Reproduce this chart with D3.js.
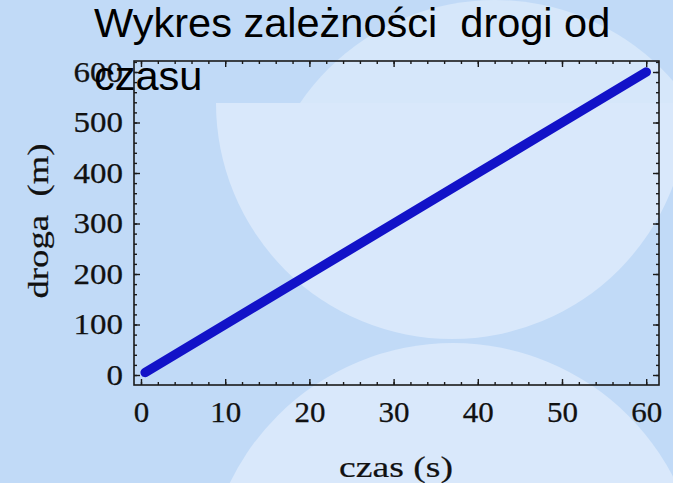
<!DOCTYPE html>
<html>
<head>
<meta charset="utf-8">
<script src="https://cdn.jsdelivr.net/npm/d3@7"></script>
<style>
body { margin: 0; background: #c1daf7; }
.tick text { font-family: "Liberation Serif", "Times New Roman", serif; font-size: 29px; fill: #111; stroke: #111; stroke-width: 0.25; }
.tick line { stroke: #1a1a1a; stroke-width: 1.4; }
</style>
</head>
<body>
<svg id="chart" width="673" height="483"></svg>
<script>
// values
const czas = [0.5, 10, 20, 30, 40, 50, 60];
const droga = [5, 100, 200, 300, 400, 500, 600];
const xTicks = [0, 10, 20, 30, 40, 50, 60];
const yTicks = [0, 100, 200, 300, 400, 500, 600];
const titleLines = ["Wykres zależności  drogi od", "czasu"];
const xLabel = "czas (s)";
const yLabel = "droga  (m)";

function drawBackground(svg) {
    let defs = svg.append("defs");
    defs.append("clipPath").attr("id", "topBand").append("rect").attr("x", 0).attr("y", 0).attr("width", 673).attr("height", 103);
    defs.append("clipPath").attr("id", "lowBand").append("rect").attr("x", 0).attr("y", 103).attr("width", 673).attr("height", 380);

    svg.append("rect").attr("width", 673).attr("height", 483).style("fill", "#c1daf7");
    svg.append("circle").attr("cx", 495).attr("cy", 236).attr("r", 236).attr("clip-path", "url(#topBand)").style("fill", "#d6e7fa");
    svg.append("circle").attr("cx", 452).attr("cy", 103).attr("r", 236).attr("clip-path", "url(#lowBand)").style("fill", "#d9e8fb");
    svg.append("circle").attr("cx", 453).attr("cy", 591).attr("r", 248).style("fill", "#d9e8fb");
}

function drawChart() {
    let svg = d3.select("#chart");
    drawBackground(svg);

    let x = d3.scaleLinear().domain([-0.83, 61.52]).range([134, 659]),
        y = d3.scaleLinear().domain([-19.8, 621.8]).range([385, 61]);
    let x0 = x.range()[0], x1 = x.range()[1], y0 = y.range()[0], y1 = y.range()[1];

    let xMinor = d3.range(0, 61, 2), yMinor = d3.range(0, 621, 20);

    // minor ticks on all four sides
    svg.append("g").attr("transform", "translate(0," + y0 + ")").call(d3.axisBottom(x).tickValues(xMinor).tickSize(-3).tickFormat(""));
    svg.append("g").attr("transform", "translate(0," + y1 + ")").call(d3.axisTop(x).tickValues(xMinor).tickSize(-3).tickFormat(""));
    svg.append("g").attr("transform", "translate(" + x0 + ",0)").call(d3.axisLeft(y).tickValues(yMinor).tickSize(-3).tickFormat(""));
    svg.append("g").attr("transform", "translate(" + x1 + ",0)").call(d3.axisRight(y).tickValues(yMinor).tickSize(-3).tickFormat(""));

    // major ticks, labels on bottom and left
    let bottom = svg.append("g").attr("transform", "translate(0," + y0 + ")")
        .call(d3.axisBottom(x).tickValues(xTicks).tickSize(-6).tickPadding(16));
    svg.append("g").attr("transform", "translate(0," + y1 + ")").call(d3.axisTop(x).tickValues(xTicks).tickSize(-6).tickFormat(""));
    let left = svg.append("g").attr("transform", "translate(" + x0 + ",0)")
        .call(d3.axisLeft(y).tickValues(yTicks).tickSize(-6).tickPadding(11));
    svg.append("g").attr("transform", "translate(" + x1 + ",0)").call(d3.axisRight(y).tickValues(yTicks).tickSize(-6).tickFormat(""));

    svg.selectAll(".domain").remove();
    bottom.selectAll("text").attr("textLength", d => String(d).length * 15.5).attr("lengthAdjust", "spacingAndGlyphs");
    left.selectAll("text").attr("textLength", d => String(d).length * 16.5).attr("lengthAdjust", "spacingAndGlyphs");

    // the data line
    let line = d3.line().x((d, i) => x(czas[i])).y(d => y(d));
    svg.append("path").attr("d", line(droga))
        .style("fill", "none").style("stroke", "#1212c8").style("stroke-width", 9.5)
        .style("stroke-linecap", "round").style("stroke-linejoin", "round");

    svg.append("rect").attr("x", x0).attr("y", y1).attr("width", x1 - x0).attr("height", y0 - y1)
        .style("fill", "none").style("stroke", "#1a1a1a").style("stroke-width", 1.6);

    // axis titles
    let serif = "'Liberation Serif', 'Times New Roman', serif";
    svg.append("text").attr("x", 396).attr("y", 477).attr("text-anchor", "middle")
        .attr("textLength", 114).attr("lengthAdjust", "spacingAndGlyphs")
        .style("font-family", serif).style("font-size", "29px").style("fill", "#111")
        .style("stroke", "#111").style("stroke-width", 0.2)
        .text(xLabel);
    svg.append("text").attr("transform", "translate(48,221) rotate(-90)").attr("text-anchor", "middle")
        .attr("textLength", 155).attr("lengthAdjust", "spacingAndGlyphs")
        .style("white-space", "pre")
        .style("font-family", serif).style("font-size", "29px").style("fill", "#111")
        .style("stroke", "#111").style("stroke-width", 0.2)
        .text(yLabel);

    // title sits on top of the plot, wrapped onto two lines
    let title = svg.append("text").style("font-family", "'Liberation Sans', Arial, sans-serif")
        .style("font-size", "41.5px").style("fill", "#000").style("white-space", "pre");
    title.selectAll("tspan").data(titleLines).enter().append("tspan")
        .attr("x", 94).attr("y", (d, i) => 37 + i * 53).text(d => d);
}

drawChart();
</script>
</body>
</html>
